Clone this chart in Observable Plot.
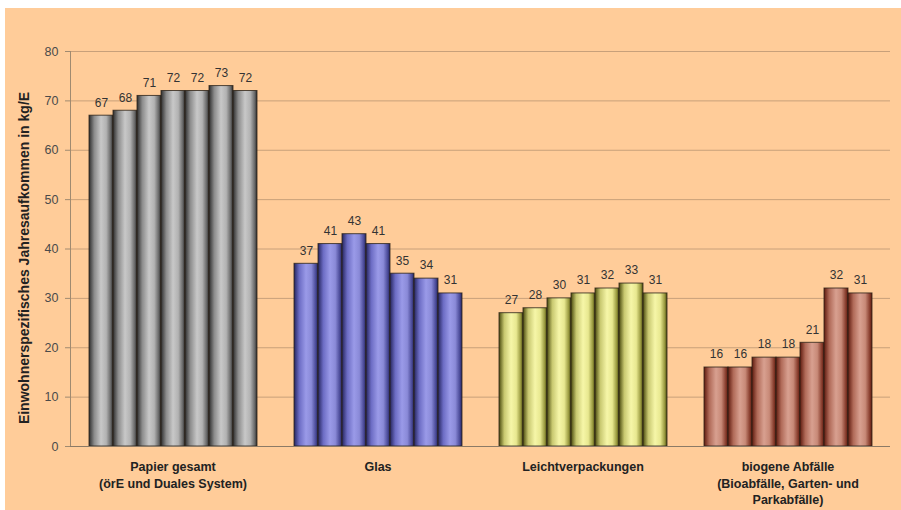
<!DOCTYPE html>
<html>
<head>
<meta charset="utf-8">
<script src="https://cdn.jsdelivr.net/npm/d3@7"></script>
<script src="https://cdn.jsdelivr.net/npm/@observablehq/plot@0.6"></script>
<style>
  html, body { margin: 0; padding: 0; background: #ffffff; }
  #chart { position: absolute; left: 5px; top: 8px; }
  #chart svg { background: #ffcc99; display: block; }
</style>
</head>
<body>
<!-- cylinder-style shading for the four bar groups -->
<svg width="0" height="0" style="position:absolute">
  <defs>
    <linearGradient id="g-papier" x1="0" x2="1" y1="0" y2="0">
      <stop offset="0" stop-color="#2e2e2e"/>
      <stop offset="0.22" stop-color="#8c8c8c"/>
      <stop offset="0.5" stop-color="#c8c8c8"/>
      <stop offset="0.72" stop-color="#b2b2b2"/>
      <stop offset="0.9" stop-color="#6a6a6a"/>
      <stop offset="1" stop-color="#2e2e2e"/>
    </linearGradient>
    <linearGradient id="g-glas" x1="0" x2="1" y1="0" y2="0">
      <stop offset="0" stop-color="#25255e"/>
      <stop offset="0.22" stop-color="#6c6cc4"/>
      <stop offset="0.5" stop-color="#9a9ae8"/>
      <stop offset="0.72" stop-color="#8a8ad8"/>
      <stop offset="0.9" stop-color="#4c4c9a"/>
      <stop offset="1" stop-color="#25255e"/>
    </linearGradient>
    <linearGradient id="g-lvp" x1="0" x2="1" y1="0" y2="0">
      <stop offset="0" stop-color="#4a4a0e"/>
      <stop offset="0.22" stop-color="#c8c870"/>
      <stop offset="0.5" stop-color="#f6f6a8"/>
      <stop offset="0.72" stop-color="#e8e890"/>
      <stop offset="0.9" stop-color="#9a9a40"/>
      <stop offset="1" stop-color="#4a4a0e"/>
    </linearGradient>
    <linearGradient id="g-bio" x1="0" x2="1" y1="0" y2="0">
      <stop offset="0" stop-color="#5e1a0e"/>
      <stop offset="0.22" stop-color="#b06a58"/>
      <stop offset="0.5" stop-color="#d8a090"/>
      <stop offset="0.72" stop-color="#c88a78"/>
      <stop offset="0.9" stop-color="#8a4030"/>
      <stop offset="1" stop-color="#5e1a0e"/>
    </linearGradient>
  </defs>
</svg>
<div id="chart"></div>
<script>
// Waste fractions (group labels, with line breaks as printed under the axis)
const categories = [
  "Papier gesamt\n(örE und Duales System)",
  "Glas",
  "Leichtverpackungen",
  "biogene Abfälle\n(Bioabfälle, Garten- und\nParkabfälle)"
];
// Seven consecutive reporting periods per fraction
const periods = ["P1", "P2", "P3", "P4", "P5", "P6", "P7"];

// Per-capita annual amounts in kg/E
const papier = [67, 68, 71, 72, 72, 73, 72];
const glas = [37, 41, 43, 41, 35, 34, 31];
const leichtverpackungen = [27, 28, 30, 31, 32, 33, 31];
const bioabfall = [16, 16, 18, 18, 21, 32, 31];

const yTicks = [0, 10, 20, 30, 40, 50, 60, 70, 80];
const yLabel = "Einwohnerspezifisches Jahresaufkommen in kg/E";
const fills = ["url(#g-papier)", "url(#g-glas)", "url(#g-lvp)", "url(#g-bio)"];

const series = [papier, glas, leichtverpackungen, bioabfall];
const rows = series.flatMap((values, g) =>
  values.map((v, i) => ({category: categories[g], period: periods[i], value: v}))
);

const font = "'Liberation Sans', Arial, sans-serif";

const chart = Plot.plot({
  width: 896,
  height: 502,
  marginLeft: 64,
  marginRight: 10,
  marginTop: 43,
  marginBottom: 64,
  style: {fontFamily: font, background: "#ffcc99", color: "#333"},
  fx: {domain: categories, padding: 0, axis: null},
  x: {domain: periods, paddingInner: 0, paddingOuter: 0.73, axis: null},
  y: {domain: [0, 80], axis: null},
  color: {domain: categories, range: fills},
  marks: [
    Plot.gridY(yTicks, {stroke: "#c8a07a", strokeOpacity: 1, strokeWidth: 1}),
    Plot.frame({anchor: "left", facetAnchor: "left", stroke: "#a08a70"}),
    Plot.axisY(yTicks, {
      tickSize: 5, tickPadding: 7, stroke: "#a08a70", fill: "#4a4a4a",
      fontSize: 12.5, label: null
    }),
    Plot.barY(rows, {
      fx: "category", x: "period", y: "value",
      fill: "category", stroke: "#2a2218", strokeWidth: 1, strokeOpacity: 0.8
    }),
    Plot.ruleY([0], {stroke: "#8c7a66"}),
    Plot.text(rows, {
      fx: "category", x: "period", y: "value", text: "value",
      dy: -13, fontSize: 12, fill: "#333"
    }),
    Plot.axisFx({
      anchor: "bottom", tickSize: 0, tickPadding: 13, label: null,
      fontWeight: "bold", fontSize: 12.5, lineHeight: 1.32, fill: "#222"
    }),
    Plot.text([yLabel], {
      fx: [categories[0]], frameAnchor: "left", textAnchor: "middle", rotate: -90,
      dx: -46, dy: 9, fontWeight: "bold", fontSize: 14, fill: "#222"
    })
  ]
});

document.getElementById("chart").appendChild(chart);
</script>
</body>
</html>
